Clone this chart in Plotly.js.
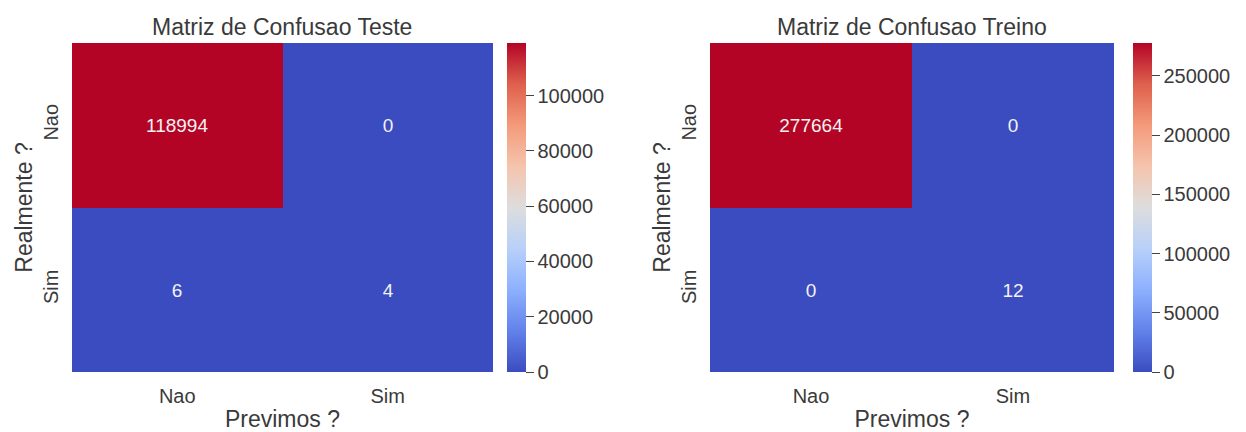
<!DOCTYPE html>
<html>
<head>
<meta charset="utf-8">
<script src="https://cdn.plot.ly/plotly-3.0.1.min.js"></script>
<style>html,body{margin:0;padding:0;background:#fff;}#chart{width:1246px;height:432px;}</style>
</head>
<body>
<div id="chart"></div>
<script>
const categories = ['Nao', 'Sim'];
const testeValues = [[118994, 0], [6, 4]];
const treinoValues = [[277664, 0], [0, 12]];
const testeTitle = 'Matriz de Confusao Teste';
const treinoTitle = 'Matriz de Confusao Treino';
const xLabel = 'Previmos ?';
const yLabel = 'Realmente ?';
const testeTicks = [0, 20000, 40000, 60000, 80000, 100000];
const treinoTicks = [0, 50000, 100000, 150000, 200000, 250000];

const coolwarm = [
  [0.0, '#3b4cc0'], [0.125, '#6282ea'], [0.25, '#8db0fe'], [0.375, '#b8d0f9'],
  [0.5, '#dddddd'], [0.625, '#f5c4ad'], [0.75, '#f49a7b'], [0.875, '#de604d'], [1.0, '#b40426']
];
const W = 1246, H = 432;
const fx = p => p / W, fy = p => 1 - p / H;
const font = 'Liberation Sans, Arial, sans-serif';
const textCol = '#3a3a3a';

function cb(x0, ticks) {
  return {
    x: fx(x0), xanchor: 'left', xpad: 0, ypad: 0,
    y: fy(372), yanchor: 'bottom', len: (372 - 43) / H, lenmode: 'fraction',
    thickness: 19, outlinewidth: 0,
    tickvals: ticks, ticktext: ticks.map(String),
    ticks: 'outside', ticklen: 8, tickwidth: 1, tickcolor: '#444',
    tickfont: {family: font, size: 20, color: textCol}
  };
}
function hm(z, xa, ya, x0, ticks) {
  return {
    type: 'heatmap', z: z, x: categories, y: categories, xaxis: xa, yaxis: ya,
    colorscale: coolwarm, zmin: 0, zmax: Math.max(...z.flat()),
    text: z.map(r => r.map(String)), texttemplate: '%{text}',
    textfont: {family: font, size: 19, color: '#f2f2f2'},
    colorbar: cb(x0, ticks), hoverinfo: 'skip'
  };
}
const data = [
  hm(testeValues, 'x', 'y', 507, testeTicks),
  hm(treinoValues, 'x2', 'y2', 1133, treinoTicks)
];
function xax(d) {
  return {domain: d, showgrid: false, zeroline: false, showline: false, ticks: '',
    ticklabelstandoff: 10,
    tickfont: {family: font, size: 20, color: textCol},
    title: {text: xLabel, font: {family: font, size: 23, color: textCol}, standoff: 5}};
}
function yax(d, anchor) {
  return {domain: d, anchor: anchor, autorange: 'reversed', showgrid: false, zeroline: false, showline: false, ticks: '',
    tickangle: -90, ticklabelstandoff: 9,
    tickfont: {family: font, size: 20, color: textCol},
    title: {text: yLabel, font: {family: font, size: 23, color: textCol}, standoff: 0}};
}
const yd = [fy(372), fy(43)];
const layout = {
  width: W, height: H, margin: {l: 0, r: 0, t: 0, b: 0},
  paper_bgcolor: '#fff', plot_bgcolor: '#fff', showlegend: false,
  xaxis: Object.assign(xax([fx(72), fx(493)]), {anchor: 'y'}),
  yaxis: yax(yd, 'x'),
  xaxis2: Object.assign(xax([fx(710), fx(1114)]), {anchor: 'y2'}),
  yaxis2: yax(yd, 'x2'),
  annotations: [
    {text: testeTitle, x: fx(282), y: fy(27), xref: 'paper', yref: 'paper', showarrow: false,
      font: {family: font, size: 23, color: textCol}, xanchor: 'center', yanchor: 'middle'},
    {text: treinoTitle, x: fx(912), y: fy(27), xref: 'paper', yref: 'paper', showarrow: false,
      font: {family: font, size: 23, color: textCol}, xanchor: 'center', yanchor: 'middle'}
  ]
};
Plotly.newPlot('chart', data, layout, {displayModeBar: false, staticPlot: true});
</script>
</body>
</html>
